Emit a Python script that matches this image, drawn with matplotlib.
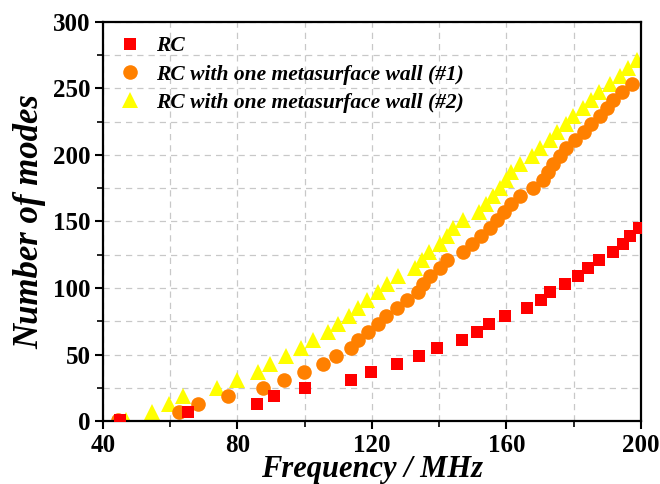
import matplotlib
matplotlib.use('Agg')
import matplotlib.pyplot as plt
from matplotlib.ticker import MultipleLocator

# RC (empty reverberation chamber)
rc_freq = [45.1, 65.3, 85.8, 90.9, 100.0, 113.7, 119.7, 127.4, 134.0, 139.4,
           146.8, 151.2, 154.8, 159.6, 166.1, 170.3, 173.0, 177.4, 181.3, 184.2,
           187.5, 191.7, 194.7, 196.7, 199.4]
rc_modes = [1, 7, 13, 19, 25, 31, 37, 43, 49, 55, 61, 67, 73, 79, 85, 91, 97,
            103, 109, 115, 121, 127, 133, 139, 145]

# RC with one metasurface wall (#1)
m1_freq = [44.5, 62.7, 68.3, 77.2, 87.6, 93.8, 99.8, 105.5, 109.3, 113.7, 115.8,
           118.8, 121.8, 124.2, 127.4, 130.4, 133.7, 135.2, 137.2, 140.2, 142.3,
           147.1, 149.7, 152.4, 155.0, 157.2, 159.3, 161.5, 164.0, 168.0, 170.8,
           172.5, 174.0, 176.0, 177.7, 180.4, 183.0, 185.3, 187.8, 189.8, 191.8,
           194.5, 197.5]
m1_modes = [1, 7, 13, 19, 25, 31, 37, 43, 49, 55, 61, 67, 73, 79, 85, 91, 97,
            103, 109, 115, 121, 127, 133, 139, 145, 151, 157, 163, 169, 175,
            181, 187, 193, 199, 205, 211, 217, 223, 229, 235, 241, 247, 253]

# RC with one metasurface wall (#2)
m2_freq = [46.8, 54.6, 59.5, 63.7, 74.0, 80.0, 86.2, 89.7, 94.3, 98.8, 102.4,
           107.0, 110.0, 113.3, 116.0, 118.6, 121.9, 124.4, 127.8, 132.8, 134.8,
           137.0, 140.2, 142.2, 144.0, 147.0, 151.9, 154.0, 156.0, 158.1, 160.0,
           161.5, 164.0, 167.5, 170.0, 173.0, 175.0, 177.7, 179.9, 182.8, 185.3,
           187.6, 190.8, 193.8, 196.3, 198.9]
m2_modes = [1, 7, 13, 19, 25, 31, 37, 43, 49, 55, 61, 67, 73, 79, 85, 91, 97,
            103, 109, 115, 121, 127, 133, 139, 145, 151, 157, 163, 169, 175,
            181, 187, 193, 199, 205, 211, 217, 223, 229, 235, 241, 247, 253,
            259, 265, 271]

labels = ['RC', 'RC with one metasurface wall (#1)', 'RC with one metasurface wall (#2)']

plt.rcParams['font.family'] = ['Liberation Serif', 'DejaVu Serif']

fig = plt.figure(figsize=(6.6, 4.84), dpi=100)
ax = fig.add_axes([0.156, 0.130, 0.815, 0.825])

ax.plot(rc_freq, rc_modes, 's', color='#ff0000', ms=8.5, mew=0, label=labels[0], zorder=3)
ax.plot(m1_freq, m1_modes, 'o', color='#ff8000', ms=10.5, mew=0, label=labels[1], zorder=2)
ax.plot(m2_freq, m2_modes, '^', color='#ffff00', ms=11.5, mew=0, label=labels[2], zorder=1)

ax.set_xlim(40, 200)
ax.set_ylim(0, 300)
ax.xaxis.set_major_locator(MultipleLocator(40))
ax.xaxis.set_minor_locator(MultipleLocator(20))
ax.yaxis.set_major_locator(MultipleLocator(50))
ax.yaxis.set_minor_locator(MultipleLocator(25))

ax.grid(True, which='both', ls=(0, (5, 4)), color='#c8c8c8', lw=0.9)
ax.set_axisbelow(True)

ax.tick_params(which='major', direction='out', length=6, width=1.5, labelsize=18, pad=3)
ax.tick_params(which='minor', direction='out', length=4, width=1.2)
ax.tick_params(top=False, right=False)
for lab in ax.get_xticklabels() + ax.get_yticklabels():
    lab.set_fontweight('bold')

for s in ax.spines.values():
    s.set_linewidth(1.6)

ax.set_xlabel('Frequency / MHz', fontsize=22, fontweight='bold', fontstyle='italic', labelpad=-1)
ax.set_ylabel('Number of modes', fontsize=25, fontweight='bold', fontstyle='italic', labelpad=5)

ax.legend(loc='upper left', frameon=False, prop={'size': 15.5, 'weight': 'bold', 'style': 'italic'},
          handletextpad=0.6, labelspacing=0.38, borderaxespad=0.0, handlelength=1.2,
          bbox_to_anchor=(0.01, 0.985))

fig.savefig('out.png', dpi=100)
